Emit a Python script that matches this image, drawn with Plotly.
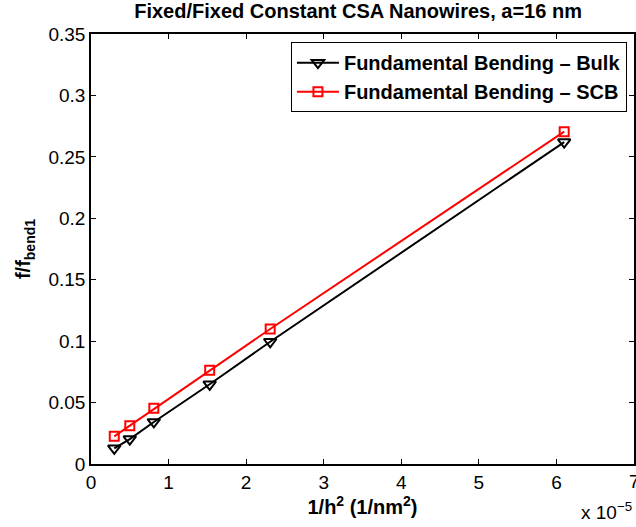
import plotly.graph_objects as go

# Data (x in 1/nm^2)
x_vals = [0.30e-5, 0.50e-5, 0.81e-5, 1.53e-5, 2.31e-5, 6.10e-5]
bulk_vals = [0.0128, 0.0203, 0.0342, 0.0649, 0.0995, 0.262]
scb_vals = [0.0225, 0.0312, 0.0453, 0.0763, 0.1099, 0.2705]
x_tick_nums = [0, 1, 2, 3, 4, 5, 6, 7]
y_tick_vals = [0, 0.05, 0.1, 0.15, 0.2, 0.25, 0.3, 0.35]
y_tick_text = ["0", "0.05", "0.1", "0.15", "0.2", "0.25", "0.3", "0.35"]

FONT = "Liberation Sans, Arial, Helvetica, sans-serif"
TICK_SIZE = 19

fig = go.Figure()
fig.add_trace(go.Scatter(
    x=x_vals, y=bulk_vals, mode="lines+markers",
    name="<b>Fundamental Bending \u2013 Bulk</b>",
    line=dict(color="black", width=2),
    marker=dict(symbol="triangle-down-open", size=11, color="black",
                line=dict(width=2, color="black")),
))
fig.add_trace(go.Scatter(
    x=x_vals, y=scb_vals, mode="lines+markers",
    name="<b>Fundamental Bending \u2013 SCB</b>",
    line=dict(color="red", width=2),
    marker=dict(symbol="square-open", size=9, color="red",
                line=dict(width=2, color="red")),
))

axis_common = dict(
    showline=True, linecolor="black", linewidth=1.5, mirror="ticks",
    ticks="inside", ticklen=5, tickcolor="black", tickwidth=1,
    showgrid=False, zeroline=False,
    tickfont=dict(family=FONT, size=TICK_SIZE, color="black"),
)

fig.update_layout(
    width=636, height=527,
    margin=dict(l=91, r=0, t=34, b=63),
    paper_bgcolor="white", plot_bgcolor="white",
    font=dict(family=FONT, color="black"),
    title=dict(text="<b>Fixed/Fixed Constant CSA Nanowires, a=16 nm</b>",
               x=0.563, xanchor="center", y=0.979, yanchor="middle",
               font=dict(family=FONT, size=20, color="black")),
    xaxis=dict(range=[0, 7e-5], tickvals=[v * 1e-5 for v in x_tick_nums],
               ticktext=[str(v) for v in x_tick_nums],
               title=dict(text="<b>1/h<sup>2</sup> (1/nm<sup>2</sup>)</b>",
                          font=dict(family=FONT, size=20, color="black"),
                          standoff=2),
               **axis_common),
    yaxis=dict(range=[0, 0.35], tickvals=y_tick_vals, ticktext=y_tick_text,
               title=dict(text="<b>f/f<sub>bend1</sub></b>",
                          font=dict(family=FONT, size=20, color="black"),
                          standoff=12),
               **axis_common),
    legend=dict(x=0.987, xanchor="right", y=0.981, yanchor="top",
                bgcolor="white", bordercolor="black", borderwidth=1,
                font=dict(family=FONT, size=20, color="black"),
                itemwidth=42, tracegroupgap=0),
    showlegend=True,
)

# Last tick label (clipped at the window edge in the reference)
fig.add_annotation(
    text=str(x_tick_nums[-1]), xref="paper", yref="paper",
    x=1.0, xanchor="center", y=0, yanchor="top", yshift=-5,
    showarrow=False, font=dict(family=FONT, size=TICK_SIZE, color="black"),
)

fig.add_annotation(
    text="x 10<sup>\u22125</sup>", xref="paper", yref="paper",
    x=1.0, xanchor="right", y=-0.077, yanchor="top", showarrow=False,
    font=dict(family=FONT, size=19, color="black"),
)

fig.write_html("out.html")
